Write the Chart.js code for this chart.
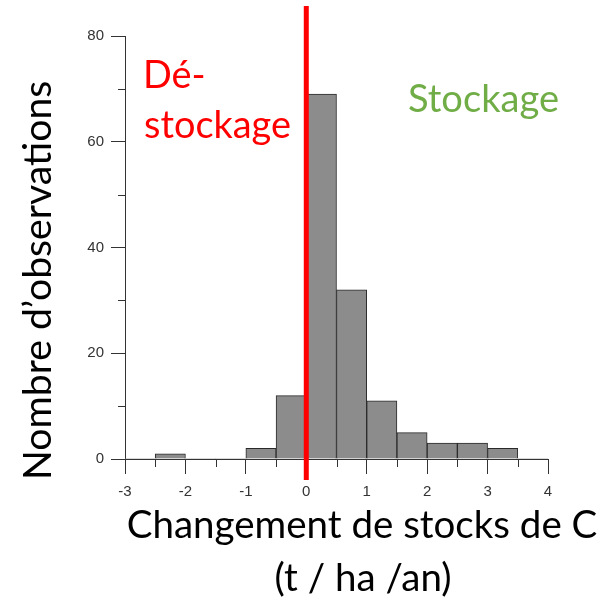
<!DOCTYPE html>
<html>
<head>
<meta charset="utf-8">
<script src="https://cdn.jsdelivr.net/npm/chart.js@4.4.0/dist/chart.umd.min.js"></script>
<style>
  html, body { margin: 0; padding: 0; background: #fff; }
  #wrap { width: 615px; height: 597px; }
</style>
</head>
<body>
<div id="wrap"><canvas id="histChart"></canvas></div>
<script>
// histogram bins (left edge of each 0.5 bin) and counts
const binStarts = [-3, -2.5, -2, -1.5, -1, -0.5, 0, 0.5, 1, 1.5, 2, 2.5, 3, 3.5];
const counts = [0, 1, 0, 0, 2, 12, 69, 32, 11, 5, 3, 3, 2, 0];
const binWidth = 0.5;

const xRange = [-3, 4];
const yRange = [0, 80];
const xMinorTicks = [-2.5, -1.5, -0.5, 0.5, 1.5, 2.5, 3.5];
const yMinorTicks = [10, 30, 50, 70];
const splitValue = 0;

const yTitle = 'Nombre d\u2019observations';
const xTitle = ['Changement de stocks de C', '(t / ha /an)'];
const leftLabel = ['Dé-', 'stockage'];
const rightLabel = 'Stockage';

const textFamily = 'Lato, "Open Sans", sans-serif';

function fitFont(ctx, text, width) {
  ctx.font = '100px ' + textFamily;
  const size = 100 * width / ctx.measureText(text).width;
  return size.toFixed(1) + 'px ' + textFamily;
}

const overlay = {
  id: 'overlay',
  afterDraw(chart) {
    const ctx = chart.ctx;
    const xs = chart.scales.x;
    const ys = chart.scales.y;
    const area = chart.chartArea;

    // minor ticks
    ctx.save();
    ctx.strokeStyle = '#333';
    ctx.lineWidth = 1;
    ctx.beginPath();
    xMinorTicks.forEach((v) => {
      const px = Math.round(xs.getPixelForValue(v)) + 0.5;
      ctx.moveTo(px, area.bottom);
      ctx.lineTo(px, area.bottom + 8);
    });
    yMinorTicks.forEach((v) => {
      const py = Math.round(ys.getPixelForValue(v)) + 0.5;
      ctx.moveTo(area.left - 7, py);
      ctx.lineTo(area.left, py);
    });
    ctx.stroke();
    ctx.restore();

    // red split line at 0
    const x0 = xs.getPixelForValue(splitValue);
    ctx.save();
    ctx.fillStyle = '#ff0000';
    ctx.fillRect(x0 - 2.5, 6, 5, 474);
    ctx.restore();

    // texts
    ctx.save();
    ctx.textBaseline = 'alphabetic';

    ctx.fillStyle = '#ff0000';
    ctx.textAlign = 'left';
    ctx.font = fitFont(ctx, leftLabel[1], 147);
    ctx.fillText(leftLabel[0], 143, 88);
    ctx.fillText(leftLabel[1], 144, 138);

    ctx.fillStyle = '#70ad47';
    ctx.font = fitFont(ctx, rightLabel, 151);
    ctx.fillText(rightLabel, 408, 112);

    ctx.fillStyle = '#000';
    ctx.textAlign = 'center';
    ctx.font = fitFont(ctx, xTitle[0], 470);
    ctx.fillText(xTitle[0], 362, 538);
    ctx.fillText(xTitle[1], 363, 591);

    ctx.translate(51, 480);
    ctx.rotate(-Math.PI / 2);
    ctx.textAlign = 'left';
    ctx.font = fitFont(ctx, yTitle, 399);
    ctx.fillText(yTitle, 0, 0);
    ctx.restore();
  }
};

const ctxHist = document.getElementById('histChart').getContext('2d');
const histChart = new Chart(ctxHist, {
  type: 'bar',
  data: {
    datasets: [{
      data: binStarts.map((s, i) => ({ x: s + binWidth / 2, y: counts[i] })),
      backgroundColor: '#8c8c8c',
      borderColor: '#2a2a2a',
      borderWidth: (c) => (c.raw && c.raw.y > 0 ? 1 : 0),
      barPercentage: 1,
      categoryPercentage: 1,
    }],
  },
  options: {
    responsive: true,
    maintainAspectRatio: false,
    animation: false,
    layout: { padding: { top: 36, right: 67, bottom: 0, left: 0 } },
    plugins: {
      legend: { display: false },
      tooltip: { enabled: false },
    },
    scales: {
      x: {
        type: 'linear',
        min: xRange[0],
        max: xRange[1],
        offset: false,
        afterFit: (scale) => { scale.height = 138; },
        ticks: {
          stepSize: 1,
          autoSkip: false,
          color: '#333',
          padding: 9,
          font: { family: '"Liberation Sans", Arial, sans-serif', size: 15 },
        },
        grid: { drawOnChartArea: false, offset: false, tickLength: 15, color: '#333' },
        border: { color: '#333', width: 1 },
      },
      y: {
        min: yRange[0],
        max: yRange[1],
        afterFit: (scale) => { scale.width = 125; },
        ticks: {
          stepSize: 20,
          color: '#333',
          padding: 7,
          font: { family: '"Liberation Sans", Arial, sans-serif', size: 15 },
        },
        grid: { drawOnChartArea: false, tickLength: 14, color: '#333' },
        border: { color: '#333', width: 1 },
      },
    },
  },
  plugins: [overlay],
});
</script>
</body>
</html>
